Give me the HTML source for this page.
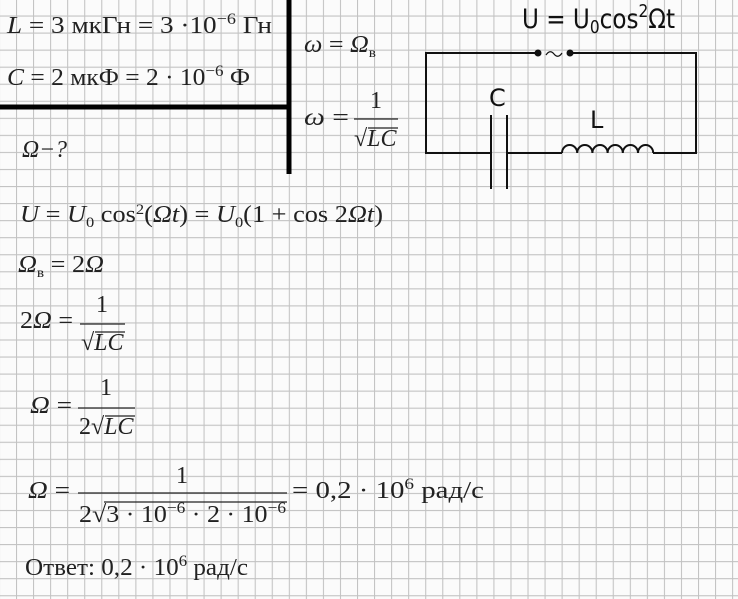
<!DOCTYPE html>
<html><head><meta charset="utf-8"><style>
html,body{margin:0;padding:0;background:#fff}
svg{display:block}
.m{font-family:"Liberation Serif",serif;font-size:24px;fill:#222}
.i{font-style:italic}
.s{font-family:"DejaVu Sans","Liberation Sans",sans-serif;fill:#111}
</style></head><body>
<svg width="738" height="599" viewBox="0 0 738 599" xmlns="http://www.w3.org/2000/svg">
<defs>
<pattern id="g" x="16" y="15.5" width="17.05" height="17.05" patternUnits="userSpaceOnUse">
<path d="M0.5 0V17.05M0 0.5H17.05" stroke="#c2c2c2" stroke-width="1.1" fill="none"/>
</pattern>
</defs>
<rect width="738" height="599" fill="#fbfbfb"/>
<rect width="738" height="599" fill="url(#g)"/>

<line x1="289" y1="0" x2="289" y2="174" stroke="#000" stroke-width="5"/>
<line x1="0" y1="107" x2="289" y2="107" stroke="#000" stroke-width="5"/>

<text class="m" x="7" y="33" textLength="265" lengthAdjust="spacingAndGlyphs"><tspan class="i">L</tspan> = 3 мкГн = 3 ·10<tspan dy="-9" font-size="16">−6</tspan><tspan dy="9"> Гн</tspan></text>
<text class="m" x="7" y="85" textLength="243" lengthAdjust="spacingAndGlyphs"><tspan class="i">C</tspan> = 2 мкФ = 2 · 10<tspan dy="-9" font-size="16">−6</tspan><tspan dy="9"> Ф</tspan></text>
<text class="m i" x="22" y="157" textLength="45" lengthAdjust="spacingAndGlyphs">Ω−?</text>

<text class="m" x="304" y="52" textLength="72" lengthAdjust="spacingAndGlyphs"><tspan class="i">ω</tspan> = <tspan class="i">Ω</tspan><tspan font-size="14" dy="5">в</tspan></text>
<text class="m" x="304" y="125" textLength="45" lengthAdjust="spacingAndGlyphs"><tspan class="i">ω</tspan> =</text>
<line x1="354" y1="119" x2="398" y2="119" stroke="#222" stroke-width="1.3"/>
<text class="m" x="370" y="108">1</text>
<text class="m" x="354" y="146">√<tspan class="i">LC</tspan></text>
<line x1="368" y1="128" x2="398" y2="128" stroke="#222" stroke-width="1.2"/>

<text class="m" x="20" y="222" textLength="363" lengthAdjust="spacingAndGlyphs"><tspan class="i">U</tspan> = <tspan class="i">U</tspan><tspan font-size="15" dy="5">0</tspan><tspan dy="-5"> cos</tspan><tspan font-size="15" dy="-8">2</tspan><tspan dy="8">(</tspan><tspan class="i">Ωt</tspan>) = <tspan class="i">U</tspan><tspan font-size="15" dy="5">0</tspan><tspan dy="-5">(1 + cos 2</tspan><tspan class="i">Ωt</tspan>)</text>

<text class="m" x="18" y="272" textLength="86" lengthAdjust="spacingAndGlyphs"><tspan class="i">Ω</tspan><tspan font-size="14" dy="5">в</tspan><tspan dy="-5"> = 2</tspan><tspan class="i">Ω</tspan></text>

<text class="m" x="20" y="328" textLength="53" lengthAdjust="spacingAndGlyphs">2<tspan class="i">Ω</tspan> =</text>
<line x1="80" y1="324" x2="125" y2="324" stroke="#222" stroke-width="1.3"/>
<text class="m" x="96" y="312">1</text>
<text class="m" x="81" y="350">√<tspan class="i">LC</tspan></text>
<line x1="95" y1="332" x2="125" y2="332" stroke="#222" stroke-width="1.2"/>

<text class="m" x="30" y="413" textLength="42" lengthAdjust="spacingAndGlyphs"><tspan class="i">Ω</tspan> =</text>
<line x1="78" y1="408" x2="135" y2="408" stroke="#222" stroke-width="1.3"/>
<text class="m" x="100" y="395">1</text>
<text class="m" x="79" y="434">2√<tspan class="i">LC</tspan></text>
<line x1="105" y1="416" x2="135" y2="416" stroke="#222" stroke-width="1.2"/>

<text class="m" x="28" y="498" textLength="42" lengthAdjust="spacingAndGlyphs"><tspan class="i">Ω</tspan> =</text>
<line x1="78" y1="493" x2="287" y2="493" stroke="#222" stroke-width="1.3"/>
<text class="m" x="176" y="483">1</text>
<text class="m" x="79" y="522" textLength="207" lengthAdjust="spacingAndGlyphs">2√3 · 10<tspan font-size="16" dy="-9">−6</tspan><tspan dy="9"> · 2 · 10</tspan><tspan font-size="16" dy="-9">−6</tspan></text>
<line x1="104" y1="502" x2="287" y2="502" stroke="#222" stroke-width="1.2"/>
<text class="m" x="292" y="498" textLength="192" lengthAdjust="spacingAndGlyphs">= 0,2 · 10<tspan font-size="16" dy="-9">6</tspan><tspan dy="9"> рад/с</tspan></text>

<text class="m" x="25" y="575" textLength="223" lengthAdjust="spacingAndGlyphs">Ответ: 0,2 · 10<tspan font-size="16" dy="-9">6</tspan><tspan dy="9"> рад/с</tspan></text>

<g stroke="#111" stroke-width="2" fill="none">
<polyline points="537,53 426,53 426,153 491,153"/>
<polyline points="571,53 696,53 696,153 653,153"/>
<line x1="507" y1="153" x2="562" y2="153"/>
<line x1="491" y1="115" x2="491" y2="189"/>
<line x1="507" y1="115" x2="507" y2="189"/>
<path d="M562 153 a7.6 8 0 0 1 15.2 0 a7.6 8 0 0 1 15.2 0 a7.6 8 0 0 1 15.2 0 a7.6 8 0 0 1 15.2 0 a7.6 8 0 0 1 15.2 0 a7.6 8 0 0 1 15.2 0"/>
<path d="M546 55 q4 -6 8 -1 t8 -1" stroke-width="1.2"/>
</g>
<circle cx="538" cy="53" r="3.5" fill="#111"/>
<circle cx="570" cy="53" r="3.5" fill="#111"/>
<text class="s" x="522" y="28" font-size="27" textLength="153" lengthAdjust="spacingAndGlyphs">U = U<tspan font-size="18" dy="5">0</tspan><tspan dy="-5">cos</tspan><tspan font-size="18" dy="-11">2</tspan><tspan dy="11">Ωt</tspan></text>
<text class="s" x="489" y="106" font-size="24">C</text>
<text class="s" x="590" y="128" font-size="24">L</text>
</svg>
</body></html>
